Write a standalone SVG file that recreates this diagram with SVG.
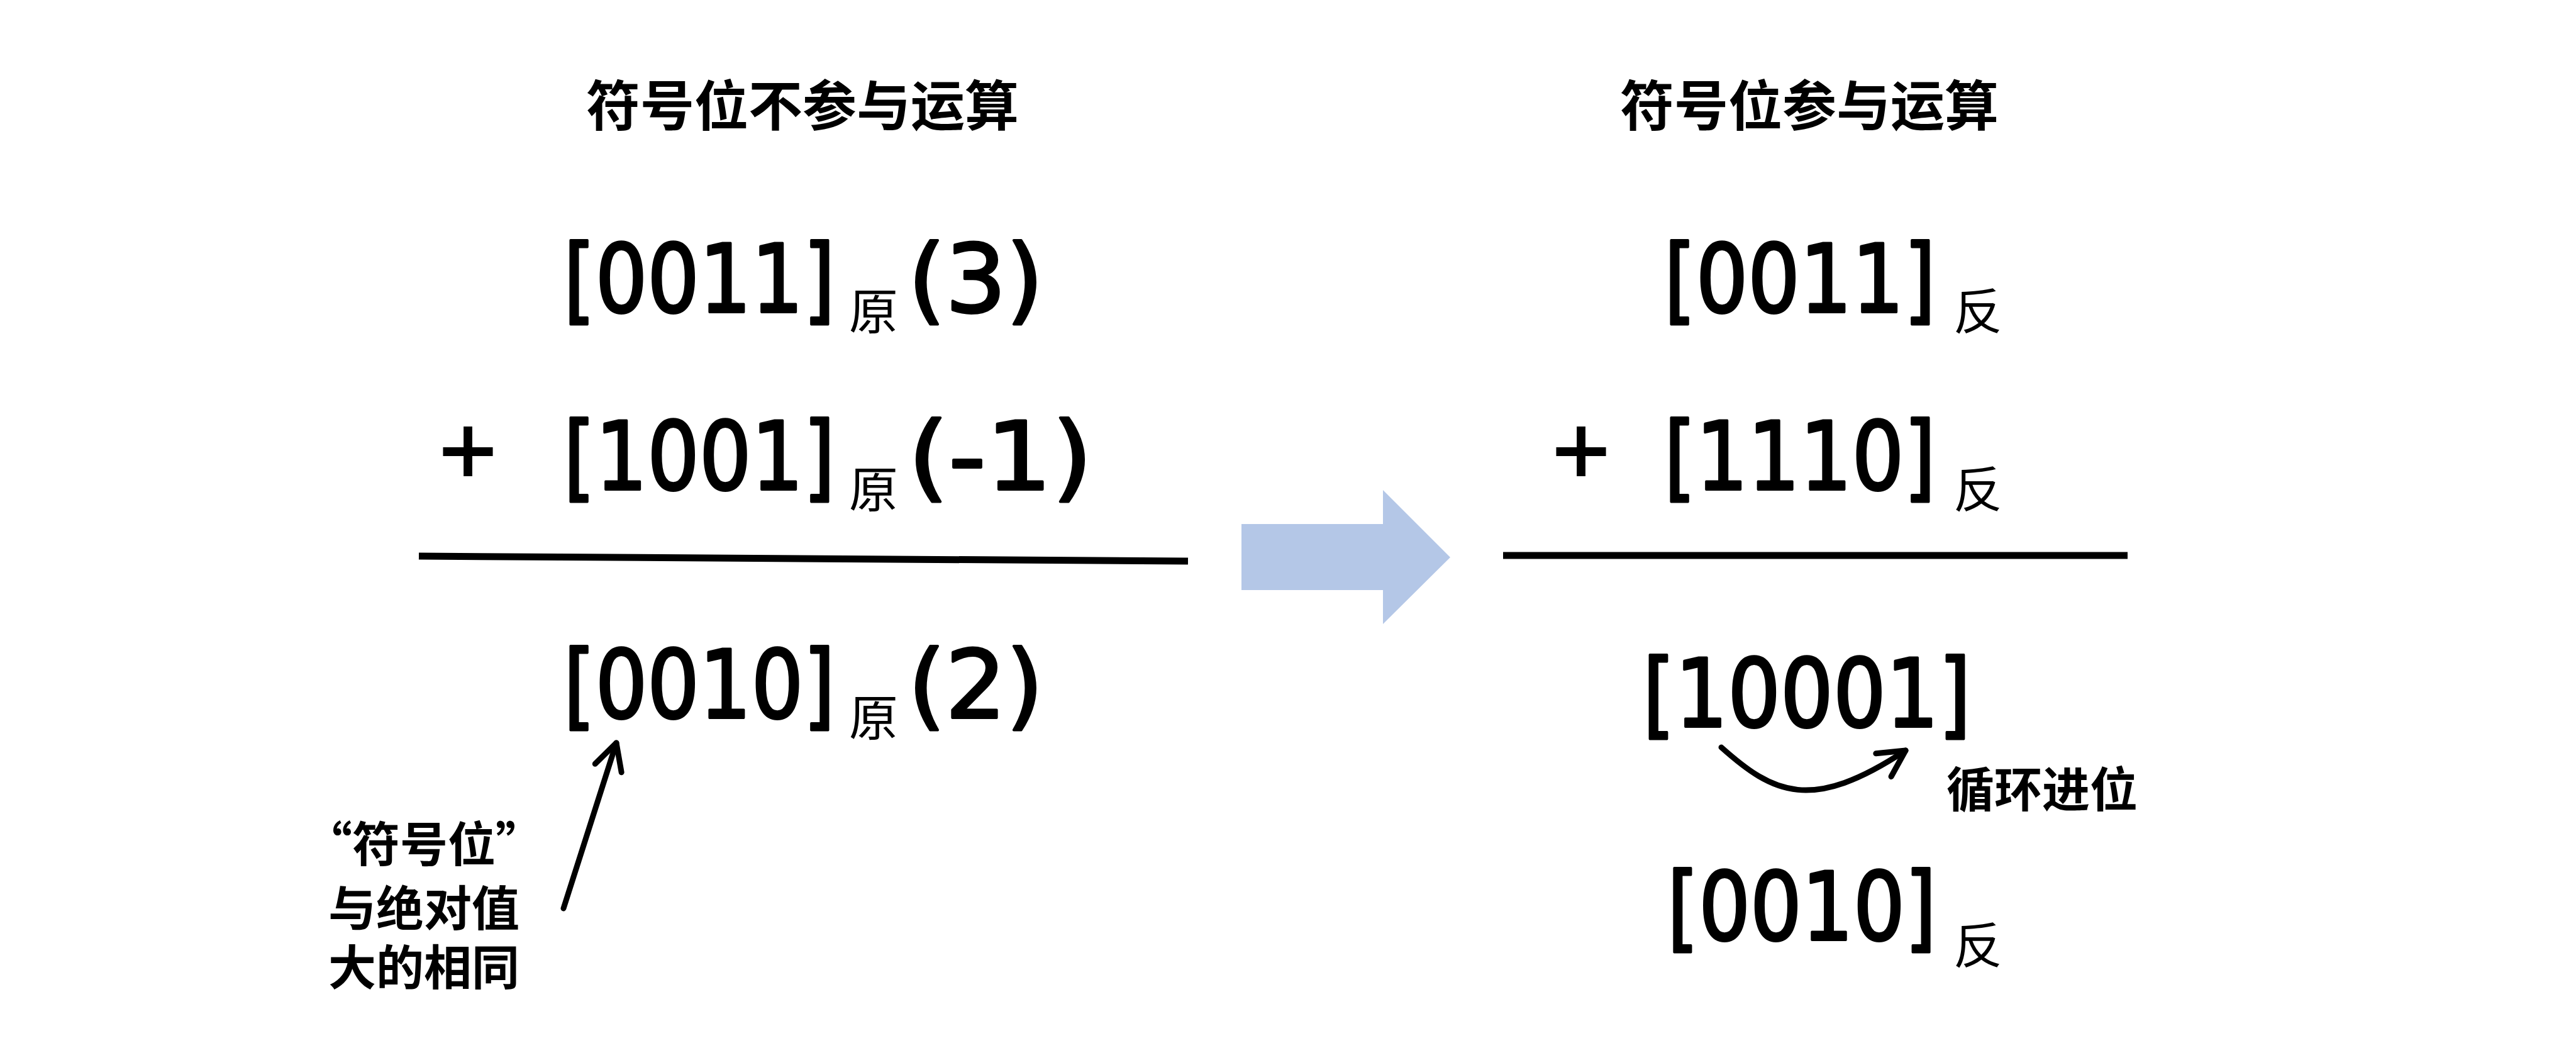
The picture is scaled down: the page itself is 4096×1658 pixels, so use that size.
<svg xmlns="http://www.w3.org/2000/svg" width="4096" height="1658" viewBox="0 0 4096 1658">
<style>
.d{font-family:"DejaVu Sans","Liberation Sans",sans-serif;font-size:150px;font-weight:400;fill:#000;stroke:#000;stroke-width:4;stroke-linejoin:round}
.p{font-family:"DejaVu Sans","Liberation Sans",sans-serif;font-size:120px;font-weight:400;fill:#000;stroke:#000;stroke-width:4}
.c{font-family:"Noto Sans CJK SC",sans-serif;fill:#000}
.t{font-size:86px;font-weight:700}
.s{font-size:78px;font-weight:400}
.n{font-size:76px;font-weight:700}
.rule{stroke:#000;stroke-width:11;fill:none}
.ln{stroke:#000;stroke-width:9;fill:none;stroke-linecap:round}
</style>
<defs>
<marker id="ah" markerUnits="userSpaceOnUse" viewBox="0 0 60 60" markerWidth="60" markerHeight="60" refX="50" refY="30" orient="auto">
<path d="M8,8 L50,30 L8,52" fill="none" stroke="#000" stroke-width="9" stroke-linecap="round" stroke-linejoin="round"/>
</marker>
</defs>
<rect width="4096" height="1658" fill="#fff"/>
<g id="left-title"><text class="c t" x="1276" y="200" text-anchor="middle">符号位不参与运算</text></g>
<g id="left-row1">
<text class="d" x="896" y="496" textLength="432" lengthAdjust="spacingAndGlyphs">[0011]</text>
<text class="c s" x="1350" y="524">原</text>
<text class="d" x="1444" y="496" textLength="215" lengthAdjust="spacingAndGlyphs">(3)</text>
</g>
<g id="left-row2">
<text class="p" x="744" y="755" text-anchor="middle">+</text>
<text class="d" x="896" y="778" textLength="432" lengthAdjust="spacingAndGlyphs">[1001]</text>
<text class="c s" x="1350" y="807">原</text>
<text class="d" x="1444" y="778" textLength="293" lengthAdjust="spacingAndGlyphs">(-1)</text>
</g>
<g id="left-row3">
<text class="d" x="896" y="1141" textLength="432" lengthAdjust="spacingAndGlyphs">[0010]</text>
<text class="c s" x="1350" y="1170">原</text>
<text class="d" x="1444" y="1141" textLength="215" lengthAdjust="spacingAndGlyphs">(2)</text>
</g>
<g id="note">
<text class="c n" x="674" y="1370" text-anchor="middle">“符号位”</text>
<text class="c n" x="674" y="1472" text-anchor="middle">与绝对值</text>
<text class="c n" x="674" y="1566" text-anchor="middle">大的相同</text>
</g>
<g id="block-arrow"><path d="M1974,833 L2199,833 L2199,779 L2306,886 L2199,992 L2199,938 L1974,938 Z" fill="#b4c7e7"/></g>
<g id="right-title"><text class="c t" x="2877" y="200" text-anchor="middle">符号位参与运算</text></g>
<g id="right-row1">
<text class="d" x="2646" y="496" textLength="432" lengthAdjust="spacingAndGlyphs">[0011]</text>
<text class="c s" x="3106" y="524">反</text>
</g>
<g id="right-row2">
<text class="p" x="2514" y="755" text-anchor="middle">+</text>
<text class="d" x="2646" y="778" textLength="432" lengthAdjust="spacingAndGlyphs">[1110]</text>
<text class="c s" x="3106" y="807">反</text>
</g>
<g id="right-row3"><text class="d" x="2612" y="1155" textLength="522" lengthAdjust="spacingAndGlyphs">[10001]</text></g>
<g id="carry-label"><text class="c n" x="3095" y="1283">循环进位</text></g>
<g id="right-row4">
<text class="d" x="2651" y="1494" textLength="428" lengthAdjust="spacingAndGlyphs">[0010]</text>
<text class="c s" x="3106" y="1532">反</text>
</g>
<g id="connectors">
<path class="rule" d="M666,884 L1889,892"/>
<path class="rule" d="M2390,883 L3383,883"/>
<path class="ln" d="M896,1444 L980,1181" marker-end="url(#ah)"/>
<path class="ln" d="M2737,1188 C2820,1262 2880,1292 3030,1193" marker-end="url(#ah)"/>
</g>
</svg>
